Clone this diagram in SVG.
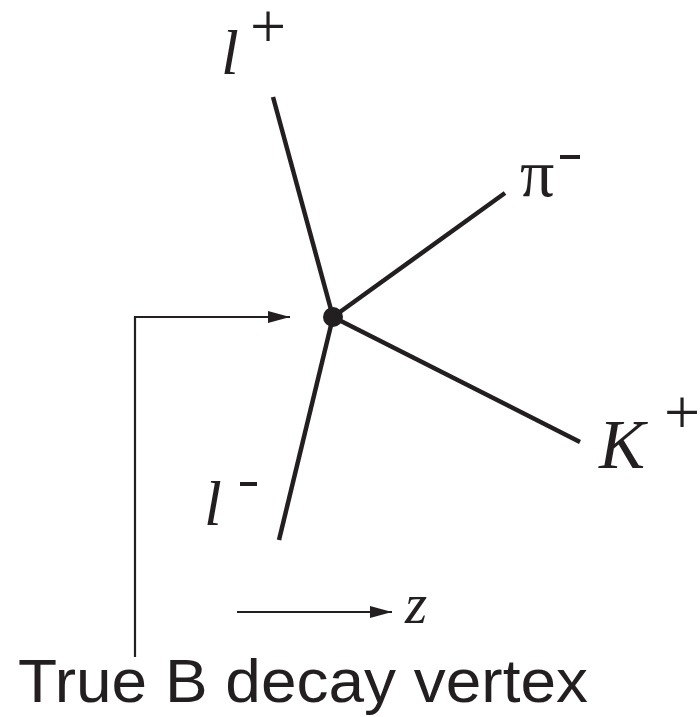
<svg xmlns="http://www.w3.org/2000/svg" width="700" height="717" viewBox="0 0 700 717">
<style>
.trk{stroke:#231f20;stroke-width:4.5;fill:none;stroke-linecap:butt}
.thin{stroke:#231f20;stroke-width:2.2;fill:none}
.ser{font-family:"Liberation Serif",serif;fill:#231f20}
.it{font-style:italic}
.sans{font-family:"Liberation Sans",Arial,sans-serif;fill:#231f20}
</style>
<defs>
<marker id="ah" markerWidth="22" markerHeight="12" refX="22" refY="6" orient="auto" markerUnits="userSpaceOnUse">
<path d="M0,0 L22,6 L0,12 Z" fill="#231f20"/>
</marker>
</defs>
<g id="connectors">
<line class="trk" x1="273" y1="97" x2="333" y2="317"/>
<line class="trk" x1="333" y1="317" x2="505" y2="193"/>
<line class="trk" x1="333" y1="317" x2="580" y2="442"/>
<line class="trk" x1="333" y1="317" x2="279" y2="540"/>
<polyline class="thin" points="135,657 135,317 290,317" marker-end="url(#ah)"/>
<line class="thin" x1="237" y1="612" x2="392" y2="612" marker-end="url(#ah)"/>
</g>
<g id="vertex"><circle cx="333" cy="317" r="10" fill="#231f20"/></g>
<g id="lplus">
<text class="ser it" x="221" y="74" font-size="64">l</text>
<text class="ser" x="250" y="48" font-size="64">+</text>
</g>
<g id="piminus">
<text class="ser" x="520" y="196" font-size="68">π</text>
<rect x="560" y="155" width="20" height="4" fill="#231f20"/>
</g>
<g id="kplus">
<text class="ser it" x="599" y="468" font-size="69">K</text>
<text class="ser" x="664" y="434" font-size="64">+</text>
</g>
<g id="lminus">
<text class="ser it" x="204" y="525" font-size="64">l</text>
<rect x="240" y="482" width="17" height="4" fill="#231f20"/>
</g>
<g id="zlabel"><text class="ser it" x="405" y="623" font-size="57">z</text></g>
<g id="label"><text class="sans" x="18" y="702" font-size="62" textLength="570" lengthAdjust="spacingAndGlyphs">True B decay vertex</text></g>
</svg>
